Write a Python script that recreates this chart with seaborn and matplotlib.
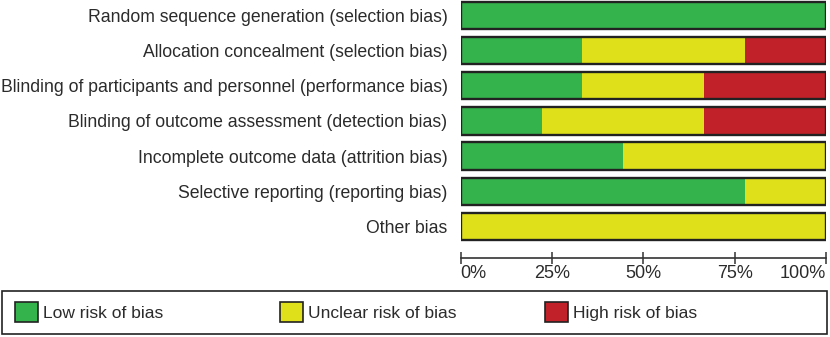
import matplotlib
matplotlib.use("Agg")
import matplotlib.pyplot as plt
from matplotlib.patches import Patch, Rectangle
import seaborn as sns
import pandas as pd

# ---- data (percent of studies) ----
domains = [
    "Random sequence generation (selection bias)",
    "Allocation concealment (selection bias)",
    "Blinding of participants and personnel (performance bias)",
    "Blinding of outcome assessment (detection bias)",
    "Incomplete outcome data (attrition bias)",
    "Selective reporting (reporting bias)",
    "Other bias",
]
low_risk = [100.0, 33.3, 33.3, 22.2, 44.4, 77.8, 0.0]
unclear_risk = [0.0, 44.5, 33.4, 44.5, 55.6, 22.2, 100.0]
high_risk = [0.0, 22.2, 33.3, 33.3, 0.0, 0.0, 0.0]
tick_values = [0, 25, 50, 75, 100]
tick_labels = ["0%", "25%", "50%", "75%", "100%"]
legend_labels = ["Low risk of bias", "Unclear risk of bias", "High risk of bias"]

GREEN = "#34B24C"
YELLOW = "#E0E01A"
RED = "#C12129"
EDGE = "#222222"
TEXT = "#2b2b2b"

df = pd.DataFrame({"domain": domains, "low": low_risk,
                   "unclear": unclear_risk, "high": high_risk})
df["cum_low"] = df["low"]
df["cum_unclear"] = df["low"] + df["unclear"]
df["cum_high"] = df["low"] + df["unclear"] + df["high"]

sns.set_theme(style="white")
plt.rcParams["font.family"] = ["Liberation Sans", "DejaVu Sans"]

W, H = 830, 337
fig = plt.figure(figsize=(W / 100, H / 100), dpi=100)
ax = fig.add_axes([460.7 / W, 1 - 258.3 / H, 365.3 / W, 258.3 / H])

bw = 0.775
for col, c in [("cum_high", RED), ("cum_unclear", YELLOW), ("cum_low", GREEN)]:
    sns.barplot(data=df, x=col, y="domain", order=domains, color=c,
                saturation=1, width=bw, linewidth=0, errorbar=None, ax=ax)
# outline around each full bar
sns.barplot(data=df, x="cum_high", y="domain", order=domains, fill=False,
            edgecolor=EDGE, linewidth=1.7, width=bw, errorbar=None, ax=ax)

ax.set_xlim(0, 100)
ax.set_ylim(6.903, -0.435)
ax.set_xlabel("")
ax.set_ylabel("")
for s in ["top", "left", "right"]:
    ax.spines[s].set_visible(False)
ax.spines["bottom"].set_color("#333333")
ax.spines["bottom"].set_linewidth(1.2)

ax.set_xticks(tick_values)
ax.set_xticklabels(tick_labels, fontsize=13, color=TEXT)
ax.tick_params(axis="x", direction="inout", length=8, width=1.1,
               color="#333333", pad=1, bottom=True)
lbls = ax.get_xticklabels()
lbls[0].set_ha("left")
lbls[-1].set_ha("right")

ax.tick_params(axis="y", length=0, pad=9.5, labelsize=12.7, labelcolor=TEXT)

# legend frame
fig.patches.append(Rectangle((2 / W, 1 - 334 / H), 824.7 / W, 43.3 / H,
                             transform=fig.transFigure, fill=False,
                             edgecolor=EDGE, linewidth=1.2))
# legend entries
fs = 12.5
fs_px = fs * 100 / 72
for lab, c, x0 in zip(legend_labels, [GREEN, YELLOW, RED], [15, 280, 545]):
    h = Patch(facecolor=c, edgecolor=EDGE, linewidth=1.2)
    lg = fig.legend([h], [lab], loc="center left",
                    bbox_to_anchor=(x0 / W, 1 - 312 / H), frameon=False,
                    borderpad=0, borderaxespad=0, handlelength=23 / fs_px,
                    handleheight=23 / fs_px, handletextpad=5 / fs_px,
                    prop={"family": ["Liberation Sans Narrow", "Liberation Sans"],
                          "size": fs})
    for t in lg.get_texts():
        t.set_color(TEXT)

fig.savefig("out.png", dpi=100)
